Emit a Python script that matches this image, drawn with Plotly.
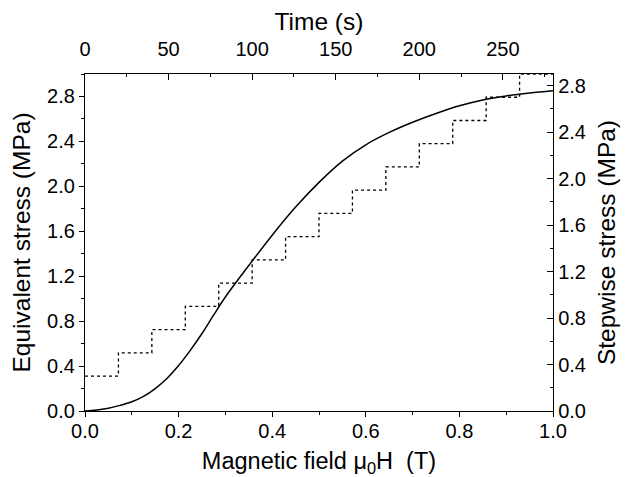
import plotly.graph_objects as go

# Equivalent stress vs magnetic field (solid curve)
field_T = [0.0, 0.025, 0.05, 0.075, 0.10, 0.125, 0.15, 0.175, 0.20, 0.225, 0.25, 0.275, 0.30,
           0.35, 0.40, 0.45, 0.50, 0.55, 0.60, 0.65, 0.70, 0.75, 0.80, 0.85, 0.90, 0.95, 1.00]
equiv_stress = [0.0, 0.008, 0.025, 0.05, 0.082, 0.13, 0.2, 0.29, 0.405, 0.54, 0.69, 0.855, 1.015,
                1.295, 1.565, 1.815, 2.035, 2.225, 2.37, 2.48, 2.57, 2.648, 2.717, 2.769, 2.805, 2.831, 2.851]

# Stepwise stress vs time (dotted staircase)
time_s = [0, 20, 40, 60, 80, 100, 120, 140, 160, 180, 200, 220, 240, 260, 280]
step_stress = [0.3, 0.5, 0.7, 0.9, 1.1, 1.3, 1.5, 1.7, 1.9, 2.1, 2.3, 2.5, 2.7, 2.9, 2.9]

FONT = "Arial, Liberation Sans, sans-serif"
TICKF = dict(family=FONT, size=20, color="black")
TITLEF = dict(family=FONT, size=24.5, color="black")
XTITLEF = dict(family=FONT, size=23.5, color="black")

fig = go.Figure()
fig.add_trace(go.Scatter(x=field_T, y=equiv_stress, mode="lines",
                         line=dict(color="black", width=1.5, shape="spline", smoothing=1.0),
                         xaxis="x", yaxis="y", showlegend=False))
fig.add_trace(go.Scatter(x=time_s, y=step_stress, mode="lines",
                         line=dict(color="black", width=1.3, shape="hv", dash="dot"),
                         xaxis="x2", yaxis="y2", showlegend=False, cliponaxis=False))

axis_common = dict(showgrid=False, zeroline=False, showline=True, linecolor="black",
                   linewidth=1.3, tickcolor="black", tickwidth=1.2, tickfont=TICKF,
                   automargin=False)

# page body has an 8px default margin, so the figure is sized to fit the 630x477 window
fig.update_layout(
    width=622, height=469,
    margin=dict(l=77, r=77, t=66, b=66),
    plot_bgcolor="white", paper_bgcolor="white",
    xaxis=dict(range=[0, 1.0], dtick=0.2, tickformat=".1f", ticks="outside", ticklen=5,
               ticklabelstandoff=-3,
               minor=dict(dtick=0.1, ticks="outside", ticklen=3, tickcolor="black"),
               title=dict(text="Magnetic field μ<sub>0</sub>H\u00a0\u00a0(T)", font=XTITLEF, standoff=12),
               **axis_common),
    xaxis2=dict(range=[0, 280], dtick=50, ticks="inside", ticklen=6, overlaying="x", side="top",
                ticklabelstandoff=9,
                minor=dict(dtick=25, ticks="inside", ticklen=3, tickcolor="black"),
                title=dict(text="Time (s)", font=TITLEF, standoff=0),
                anchor="y", **axis_common),
    yaxis=dict(range=[0, 3.0], dtick=0.4, tickformat=".1f", ticks="outside", ticklen=5,
               minor=dict(dtick=0.2, ticks="outside", ticklen=3, tickcolor="black"),
               title=dict(text="Equivalent stress (MPa)", font=TITLEF, standoff=12),
               **axis_common),
    yaxis2=dict(range=[0, 2.9], dtick=0.4, tickformat=".1f", ticks="inside", ticklen=6,
                overlaying="y", side="right", anchor="x",
                minor=dict(dtick=0.2, ticks="inside", ticklen=3, tickcolor="black"),
                title=dict(text="Stepwise stress (MPa)", font=TITLEF, standoff=12),
                **axis_common),
)

fig.write_html("out.html")
